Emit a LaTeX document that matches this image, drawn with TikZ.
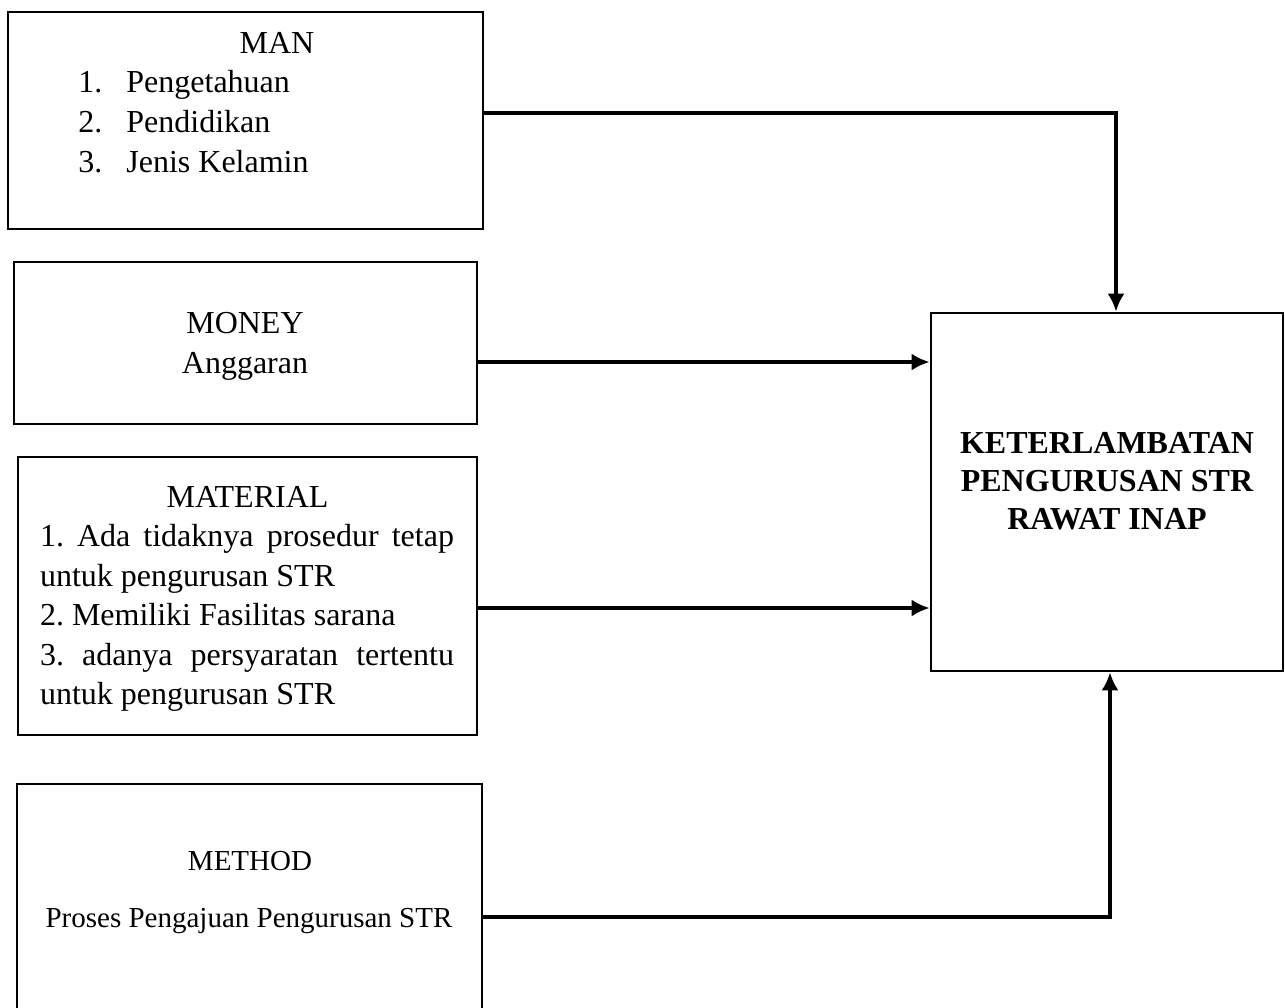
\documentclass[tikz,border=0pt]{standalone}
\usepackage{fontspec}
\setmainfont{Liberation Serif}
\usetikzlibrary{arrows.meta}
\setlength{\parindent}{0pt}
\frenchspacing

\begin{document}
\begin{tikzpicture}[x=0.5pt,y=-0.5pt,
    kotak/.style={draw,line width=1.3pt,inner sep=0pt},
    teks/.style={font=\fontsize{16}{20}\selectfont,inner sep=0pt,anchor=base},
    kecil/.style={font=\fontsize{14.5}{18}\selectfont,inner sep=0pt,anchor=base},
    panah/.style={line width=2pt,->,>={Latex[length=9pt,width=8.5pt]}}]
    \useasboundingbox (0,0) rectangle (1285,1007);
    % kotak faktor dan kotak hasil
    \node[kotak,minimum width=237.5pt,minimum height=108.5pt] (man) at (245.5,120.5) {};
    \node[kotak,minimum width=231.5pt,minimum height=81pt] (money) at (245.5,343) {};
    \node[kotak,minimum width=229.5pt,minimum height=139pt] (material) at (247.5,596) {};
    \node[kotak,minimum width=232.5pt,minimum height=130pt] (method) at (249.5,914) {};
    \node[kotak,minimum width=176pt,minimum height=179pt] (hasil) at (1107,492) {};

    \node[teks] (mantitle) at (277,53) {MAN};
    \node[teks,anchor=west,align=left] (manlist) at (78,122)
        {\makebox[24pt][l]{1.}Pengetahuan\\ \makebox[24pt][l]{2.}Pendidikan\\ \makebox[24pt][l]{3.}Jenis Kelamin};

    \node[teks] (moneytitle) at (245,333) {MONEY};
    \node[teks] (moneyisi) at (245,373) {Anggaran};

    \node[teks] (materialtitle) at (247.5,507) {MATERIAL};
    \node[font=\fontsize{16}{19.75}\selectfont,inner sep=0pt,text width=207pt,align=justify] (materialisi) at (247,618)
        {1. Ada tidaknya prosedur tetap\linebreak untuk pengurusan STR\par
         2. Memiliki Fasilitas sarana\par
         3. adanya persyaratan tertentu\linebreak untuk pengurusan STR};

    \node[kecil] (methodtitle) at (250,870) {METHOD};
    \node[kecil] (methodisi) at (249,927) {Proses Pengajuan Pengurusan STR};

    \node[font=\bfseries\fontsize{16}{19}\selectfont,inner sep=0pt,align=center] (hasilisi) at (1107,481.5)
        {KETERLAMBATAN\\PENGURUSAN STR\\RAWAT INAP};

    % panah
    \coordinate (manbelok) at (1116,113);
    \coordinate (yuang) at (700,362);
    \coordinate (ymaterial) at (700,608);
    \coordinate (methodbelok) at (1110,917);
    \draw[panah] (man.east |- manbelok) -- (manbelok) -- (manbelok |- hasil.north);
    \draw[panah] (money.east |- yuang) -- (hasil.west |- yuang);
    \draw[panah] (material.east |- ymaterial) -- (hasil.west |- ymaterial);
    \draw[panah] (method.east |- methodbelok) -- (methodbelok) -- (methodbelok |- hasil.south);

\end{tikzpicture}
\end{document}
